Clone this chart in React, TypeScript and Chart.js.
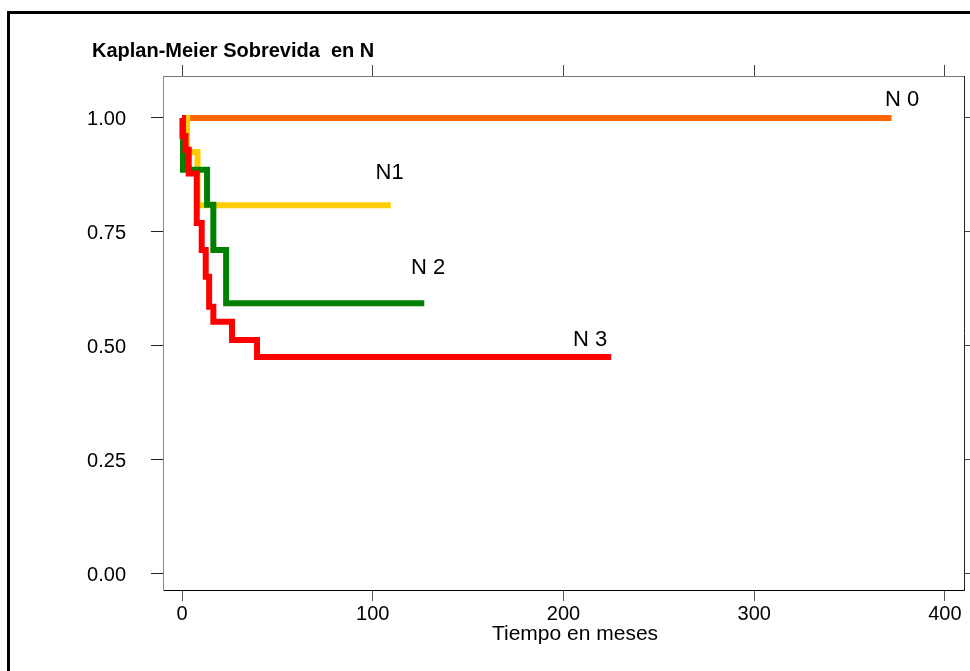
import React, { useEffect, useRef } from "react";
import { Chart, registerables } from "chart.js";

Chart.register(...registerables);

const FONT = "'Liberation Sans', Arial, Helvetica, sans-serif";

const chartTitle = "Kaplan-Meier Sobrevida  en N";
const xAxisTitle = "Tiempo en meses";

const xTicks = [0, 100, 200, 300, 400];
const yTicks = [0, 0.25, 0.5, 0.75, 1];
const yTickLabels = ["0.00", "0.25", "0.50", "0.75", "1.00"];

// Kaplan-Meier step curves (time in months, survival probability)
const n0Time = [0, 372];
const n0Surv = [1, 1];
const n1Time = [0, 2.6, 8.1, 109.4];
const n1Surv = [1, 0.925, 0.808, 0.808];
const n2Time = [0, 0.5, 13.1, 16.4, 23.1, 127];
const n2Surv = [1, 0.886, 0.809, 0.71, 0.593, 0.593];
const n3Time = [0, 0.2, 1.8, 3.5, 7.7, 10.3, 12.4, 14.2, 16.4, 26.2, 39.3, 225];
const n3Surv = [1, 0.96, 0.93, 0.878, 0.769, 0.71, 0.651, 0.585, 0.552, 0.512, 0.475, 0.475];

const seriesNames = ["N 0", "N1", "N 2", "N 3"];
const seriesColors = ["#FF6600", "#FFCC00", "#008000", "#FF0000"];
const labelTime = [377.5, 108.8, 129, 213.9];
const labelSurv = [1.04, 0.88, 0.67, 0.512];

const toPoints = (t: number[], s: number[]) => t.map((x, i) => ({ x, y: s[i] }));

const decorPlugin = {
  id: "decor",
  beforeDraw(chart: any) {
    const ctx = chart.ctx;
    ctx.save();
    ctx.fillStyle = "#ffffff";
    ctx.fillRect(0, 0, chart.width, chart.height);
    ctx.fillStyle = "#000000";
    ctx.fillRect(7, 11, chart.width, 3);
    ctx.fillRect(7, 11, 3, chart.height);
    ctx.restore();
  },
  afterDraw(chart: any) {
    const ctx = chart.ctx;
    const xs = chart.scales.x;
    const ys = chart.scales.y;
    ctx.save();
    ctx.fillStyle = "#000000";
    ctx.textBaseline = "alphabetic";
    ctx.textAlign = "left";
    ctx.font = `bold 20px ${FONT}`;
    ctx.fillText(chartTitle, 92, 57);
    ctx.font = `21px ${FONT}`;
    ctx.textAlign = "center";
    ctx.fillText(xAxisTitle, 575, 640);
    ctx.font = `22px ${FONT}`;
    ctx.textBaseline = "middle";
    seriesNames.forEach((name, i) => {
      ctx.fillText(name, xs.getPixelForValue(labelTime[i]), ys.getPixelForValue(labelSurv[i]));
    });
    ctx.restore();
  },
};

export default function App() {
  const ref = useRef<HTMLCanvasElement | null>(null);

  useEffect(() => {
    if (!ref.current) return;
    const mk = (i: number, t: number[], s: number[]) => ({
      label: seriesNames[i],
      data: toPoints(t, s),
      borderColor: seriesColors[i],
      backgroundColor: seriesColors[i],
      borderWidth: 6,
      pointRadius: 0,
      stepped: "before" as const,
      fill: false,
      borderCapStyle: "butt" as const,
      borderJoinStyle: "miter" as const,
    });
    const tickFont = { family: FONT, size: 20 };
    const chart = new Chart(ref.current, {
      type: "line",
      data: {
        datasets: [
          mk(3, n3Time, n3Surv),
          mk(2, n2Time, n2Surv),
          mk(1, n1Time, n1Surv),
          mk(0, n0Time, n0Surv),
        ],
      },
      options: {
        animation: false,
        responsive: false,
        events: [],
        layout: { padding: { top: 76, right: 0, bottom: 0, left: 0 } },
        plugins: { legend: { display: false }, title: { display: false }, tooltip: { enabled: false } },
        scales: {
          x: {
            type: "linear",
            position: "bottom",
            min: -10,
            max: 410,
            afterBuildTicks: (s: any) => { s.ticks = xTicks.map((v) => ({ value: v })); },
            afterFit: (s: any) => { s.height = 81; },
            ticks: { font: tickFont, color: "#000", padding: 1, maxRotation: 0, autoSkip: false, callback: (v: any) => String(v) },
            grid: { drawOnChartArea: false, drawTicks: true, tickLength: 11, tickColor: "#555", lineWidth: 1 },
            border: { display: true, color: "#000", width: 1 },
          },
          x2: {
            type: "linear",
            position: "top",
            min: -10,
            max: 410,
            afterBuildTicks: (s: any) => { s.ticks = xTicks.map((v) => ({ value: v })); },
            afterFit: (s: any) => { s.height = 0; },
            ticks: { display: false },
            grid: { drawOnChartArea: false, drawTicks: true, tickLength: 11, tickColor: "#444", lineWidth: 1 },
            border: { display: true, color: "#777", width: 1 },
          },
          y: {
            type: "linear",
            position: "left",
            min: -0.037,
            max: 1.092,
            afterBuildTicks: (s: any) => { s.ticks = yTicks.map((v) => ({ value: v })); },
            afterFit: (s: any) => { s.width = 163; },
            ticks: {
              font: tickFont,
              color: "#000",
              padding: 25,
              labelOffset: 2,
              autoSkip: false,
              callback: (v: any) => yTickLabels[yTicks.indexOf(Number(v))] ?? "",
            },
            grid: { drawOnChartArea: false, drawTicks: true, tickLength: 12, tickColor: "#222", lineWidth: 1 },
            border: { display: true, color: "#888", width: 1 },
          },
          y2: {
            type: "linear",
            position: "right",
            min: -0.037,
            max: 1.092,
            afterBuildTicks: (s: any) => { s.ticks = yTicks.map((v) => ({ value: v })); },
            afterFit: (s: any) => { s.width = 6; },
            ticks: { display: false },
            grid: { drawOnChartArea: false, drawTicks: true, tickLength: 8, tickColor: "#444", lineWidth: 1 },
            border: { display: true, color: "#222", width: 1 },
          },
        },
      },
      plugins: [decorPlugin],
    });
    return () => chart.destroy();
  }, []);

  return (
    <div style={{ position: "absolute", left: 0, top: 0, width: 970, height: 671, background: "#fff" }}>
      <canvas ref={ref} width={970} height={671} style={{ display: "block", width: 970, height: 671 }} />
    </div>
  );
}
